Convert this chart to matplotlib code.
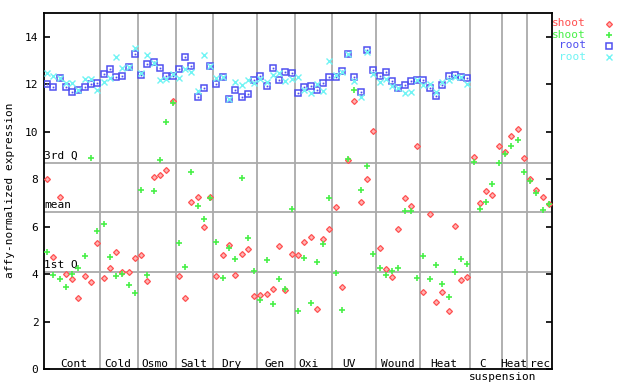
import numpy as np
import matplotlib
matplotlib.use('Agg')
import matplotlib.pyplot as plt
from matplotlib.lines import Line2D

# Sample groups along the x axis (number of chips per condition)
groups = ['Cont', 'Cold', 'Osmo', 'Salt', 'Dry', 'Gen', 'Oxi', 'UV', 'Wound', 'Heat', 'C', 'Heat', 'rec']
group_sizes = [9, 6, 6, 6, 7, 6, 6, 7, 7, 8, 5, 4, 4]

# Reference lines
ref_names = ['3rd Q', 'mean', '1st Q']
ref_values = [8.69, 6.62, 4.08]

# Expression values, one per chip
shoot_1 = [8.01, 4.71, 7.25, 4.01, 3.78, 2.99, 3.91, 3.67, 5.30,
           3.84, 4.26, 4.94, 4.07, 4.07, 4.67,
           4.80, 3.72, 8.07, 8.19, 8.39, 11.28,
           3.91, 2.99, 7.04, 7.25, 5.99, 7.25,
           3.91, 4.80, 5.22, 3.95, 4.84, 5.05, 3.07,
           3.11, 3.15, 3.36, 5.18, 3.32, 4.84,
           4.80, 5.35, 5.56, 2.52, 5.47, 5.89,
           6.83, 3.44, 8.81, 11.30, 7.04, 8.01, 10.04,
           5.09, 4.21, 3.87, 5.89, 7.21, 6.87, 9.40,
           3.23, 6.53, 2.81, 3.23, 2.43, 6.02, 3.74, 3.87,
           8.94, 7.00, 7.50, 7.33, 9.40,
           9.15, 9.82, 10.12, 8.90,
           8.01, 7.54, 7.25, 6.95]
shoot_2 = [4.95, 3.95, 3.78, 3.47, 4.01, 4.25, 4.75, 8.90, 5.82,
           6.12, 4.71, 3.91, 4.01, 3.54, 3.19,
           7.54, 3.95, 7.50, 8.81, 10.42, 11.22,
           5.30, 4.29, 8.30, 6.87, 6.32, 7.21,
           5.35, 3.82, 5.09, 4.63, 8.05, 5.51, 4.12,
           2.89, 4.59, 2.73, 3.78, 3.36, 6.74,
           2.43, 4.67, 2.77, 4.50, 5.26, 7.21,
           4.04, 2.47, 8.85, 11.77, 7.54, 8.56, 4.84,
           4.25, 3.95, 4.12, 4.25, 6.66, 6.66, 3.82,
           4.75, 3.78, 4.37, 3.57, 3.02, 4.08, 4.63, 4.42,
           8.71, 6.74, 7.04, 7.80, 8.68,
           9.06, 9.40, 9.66, 8.30,
           7.92, 7.42, 6.70, 6.95]
root_1 = [12.02, 11.90, 12.26, 11.90, 11.68, 11.74, 11.90, 12.02, 12.06,
          12.44, 12.66, 12.32, 12.36, 12.74, 13.29,
          12.37, 12.84, 12.95, 12.70, 12.36, 12.36,
          12.66, 13.16, 12.78, 11.47, 11.85, 12.78,
          12.02, 12.32, 11.39, 11.77, 11.47, 11.60, 12.19,
          12.36, 11.94, 12.70, 12.19, 12.53, 12.49,
          11.64, 11.90, 11.94, 11.77, 12.06, 12.32,
          12.32, 12.54, 13.29, 12.32, 11.68, 13.46, 12.61,
          12.36, 12.53, 12.15, 11.85, 11.98, 12.15, 12.19,
          12.19, 11.85, 11.51, 11.98, 12.36, 12.40, 12.32, 12.28]
root_2 = [12.49, 12.36, 12.26, 12.06, 12.04, 11.74, 12.23, 12.23, 11.77,
          12.11, 12.28, 13.16, 12.70, 12.74, 13.54,
          12.49, 13.22, 12.88, 12.19, 12.23, 12.44,
          12.28, 12.66, 12.53, 11.73, 13.25, 12.78,
          12.28, 12.32, 11.39, 12.11, 11.98, 12.19, 12.06,
          12.23, 12.11, 12.40, 12.49, 12.15, 12.23,
          12.32, 11.77, 11.64, 12.02, 11.73, 12.99,
          12.40, 12.53, 13.29, 12.15, 11.47, 13.37, 12.44,
          12.11, 12.23, 11.94, 11.85, 11.64, 11.68, 12.19,
          11.98, 12.02, 11.68, 12.11, 12.19, 12.32, 12.32, 12.02]

RED, GREEN, BLUE, CYAN = '#ff5050', '#48f048', '#5050f0', '#70f4f4'
GRID = '#aaaaaa'
FONT = 'DejaVu Sans Mono'
plt.rcParams['font.family'] = FONT
plt.rcParams['font.size'] = 8

fig = plt.figure(figsize=(6.4, 3.84), dpi=100)
ax = fig.add_axes([44 / 640, 15 / 384, 508 / 640, 356 / 384])

n = sum(group_sizes)
ax.set_xlim(0, n)
ax.set_ylim(0, 15)

# group separators and reference lines
bounds = np.cumsum(group_sizes)[:-1]
for b in bounds:
    ax.axvline(b, color=GRID, lw=1.3, zorder=1)
for name, val in zip(ref_names, ref_values):
    ax.axhline(val, color=GRID, lw=1.3, zorder=1)
    ax.text(0.05, val + 0.1, name, ha='left', va='bottom', fontsize=8, zorder=2)

x_shoot = np.arange(len(shoot_1)) + 0.5
x_root = np.arange(len(root_1)) + 0.5

ax.plot(x_shoot, shoot_1, ls='none', marker='D', ms=3.0, mfc='#ffb4b4', mec=RED, mew=0.9, zorder=3)
ax.plot(x_shoot, shoot_2, ls='none', marker='+', ms=5.0, mec=GREEN, mew=1.2, zorder=4)
ax.plot(x_root, root_1, ls='none', marker='s', ms=4.6, mfc='none', mec=BLUE, mew=1.1, zorder=3)
ax.plot(x_root, root_1, ls='none', marker='s', ms=0.9, mfc=BLUE, mec=BLUE, mew=0.3, zorder=3)
ax.plot(x_root, root_2, ls='none', marker='x', ms=4.0, mec=CYAN, mew=1.0, zorder=4)

# group labels inside the bottom of the plot
label_pos = [4.78, 11.8, 17.67, 23.8, 29.94, 36.73, 42.15, 48.64, 56.35, 63.8, 70.0, 74.96, 79.1]
for name, pos in zip(groups, label_pos):
    ax.text(pos, 0.09, name, ha='center', va='baseline', fontsize=8)
ax.text(73.05, -0.12, 'suspension', ha='center', va='top', fontsize=8, clip_on=False)

ax.set_xticks([])
ax.set_yticks(np.arange(0, 15, 2))
ax.tick_params(axis='y', direction='in', length=4.5, width=1.2, right=True, labelsize=8, pad=4)
for s in ax.spines.values():
    s.set_linewidth(1.3)

fig.text(10 / 640, 1 - 190 / 384, 'affy-normalized expression', rotation=90,
         ha='center', va='center', fontsize=8)

# legend at the right
leg_items = [('shoot', RED, dict(marker='D', ms=3.0, mfc='#ffb4b4', mec=RED, mew=0.9)),
             ('shoot', GREEN, dict(marker='+', ms=5.0, mec=GREEN, mew=1.2)),
             ('root', BLUE, dict(marker='s', ms=4.2, mfc='none', mec=BLUE, mew=1.1)),
             ('root', CYAN, dict(marker='x', ms=4.0, mec=CYAN, mew=1.0))]
for i, (name, col, kw) in enumerate(leg_items):
    yy = 1 - (23.5 + 11 * i) / 384
    fig.text(586 / 640, yy, name, color=col, ha='right', va='center', fontsize=8)
    fig.add_artist(Line2D([609 / 640], [yy], ls='none', transform=fig.transFigure, **kw))

fig.savefig('out.png', dpi=100)
